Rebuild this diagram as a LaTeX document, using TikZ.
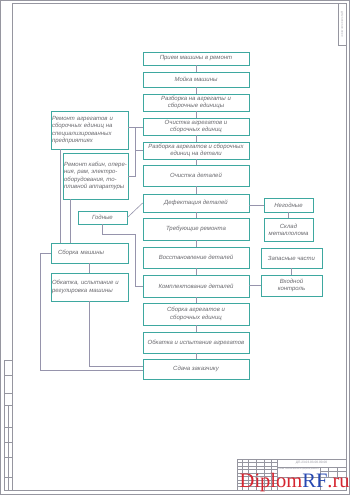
\documentclass[tikz,border=0pt]{standalone}
\usepackage{fontspec}
\setmainfont{Liberation Sans}
\newfontfamily\wmfont{Liberation Serif}
\usetikzlibrary{calc,positioning}
\definecolor{cbox}{RGB}{62,168,160}
\definecolor{clin}{RGB}{150,148,172}
\definecolor{ctxt}{RGB}{105,105,110}
\definecolor{cfrm}{RGB}{150,150,160}
\definecolor{cwred}{RGB}{214,38,48}
\definecolor{cwblu}{RGB}{38,72,178}

\begin{document}
\begin{tikzpicture}[
  x=1pt,y=-1pt,
  blk/.style={draw=cbox,line width=0.8pt,fill=white,inner sep=1pt,align=center,
    text=ctxt,font=\fontsize{6}{7.2}\selectfont\itshape},
  mainblk/.style={blk,minimum width=106pt},
  sideblk/.style={blk,align=left,inner sep=1pt},
  link/.style={clin,line width=0.6pt},
  frm/.style={cfrm,line width=0.7pt},
  thin frm/.style={cfrm,line width=0.3pt},
]
\useasboundingbox[fill=white] (0,0) rectangle (350,495);

% ============================ sheet frame ============================
\draw[thin frm] (0.5,0.5) rectangle (349.5,494.5);
\draw[frm] (12,3) rectangle (346,490);
% left binding strip
\draw[thin frm] (4,360) rectangle (12,490);
\foreach \y in {375,393,405,427,442,457,477}{ \draw[thin frm] (4,\y) -- (12,\y); }
\draw[thin frm] (8,405) -- (8,490);
% top-right stamp
\draw[thin frm] (338,3) rectangle (346,45);
\node[cfrm,rotate=-90,font=\fontsize{2.6}{3}\selectfont] (stamp) at (342,24) {ДП.23.03.03.00.00.00};

% ============================ main column ============================
\node[mainblk,minimum height=13pt] (b1)  at (196,58.5)  {Прием машины в ремонт};
\node[mainblk,minimum height=15pt] (b2)  at (196,79.5)  {Мойка машины};
\node[mainblk,minimum height=17pt] (b3)  at (196,102.5) {Разборка на агрегаты и\\сборочные единицы};
\node[mainblk,minimum height=17pt] (b4)  at (196,126.5) {Очистка агрегатов и\\сборочных единиц};
\node[mainblk,minimum height=17pt] (b5)  at (196,150.5) {Разборка агрегатов и сборочных\\единиц на детали};
\node[mainblk,minimum height=21pt] (b6)  at (196,175.5) {Очистка деталей};
\node[mainblk,minimum height=18pt] (b7)  at (196,203)   {Дефектация деталей};
\node[mainblk,minimum height=22pt] (b8)  at (196,229)   {Требующие ремонта};
\node[mainblk,minimum height=21pt] (b9)  at (196,257.5) {Восстановление деталей};
\node[mainblk,minimum height=22pt] (b10) at (196,286)   {Комплектование деталей};
\node[mainblk,minimum height=22pt] (b11) at (196,314)   {Сборка агрегатов и\\сборочных единиц};
\node[mainblk,minimum height=21pt] (b12) at (196,342.5) {Обкатка и испытание агрегатов};
\node[mainblk,minimum height=20pt] (b13) at (196,369)   {Сдача заказчику};

\foreach \a/\b in {b1/b2,b2/b3,b3/b4,b4/b5,b5/b6,b6/b7,b7/b8,b8/b9,b9/b10,b10/b11,b11/b12,b12/b13}{
  \draw[link] (\a) -- (\b); }

% ============================ right branch ============================
\node[blk,minimum width=49pt,minimum height=14pt] (neg)   at (288.5,205)   {Негодные};
\node[blk,minimum width=49pt,minimum height=23pt] (sklad) at (288.5,229.5) {Склад\\металлолома};
\node[blk,minimum width=61pt,minimum height=20pt] (zap)   at (291.5,258)   {Запасные части};
\node[blk,minimum width=61pt,minimum height=21pt] (vhod)  at (291.5,285.5) {Входной\\контроль};

\draw[link] (neg.west) -- (neg.west -| b7.east);
\draw[link] (neg) -- (sklad);
\draw[link] (zap) -- (vhod);
\draw[link] (vhod.west) -- (vhod.west -| b10.east);

% ============================ left branch ============================
\node[sideblk,text width=75pt,minimum height=38pt] (remagr) at (89.5,130)
  {Ремонт агрегатов и\\сборочных единиц на\\специализированных\\предприятиях};
\node[sideblk,minimum width=65pt,minimum height=46pt] (kabin) at (95.5,176)
  {Ремонт кабин, опере-\\ния, рам, электро-\\оборудования, то-\\пливной аппаратуры};
\node[blk,minimum width=49pt,minimum height=13pt] (godn) at (102.5,217.5) {Годные};
\node[sideblk,text width=75pt,minimum height=20pt] (sbmash) at (89.5,253) {\hspace*{6pt}Сборка машины};
\node[sideblk,text width=75pt,minimum height=28pt] (obmash) at (89.5,287)
  {Обкатка, испытание и\\регулировка машины};

% repair of units -> specialised shops
\coordinate (j1) at (135,127);
\draw[link] (b4.west |- j1) -- (remagr.east |- j1);
\draw[link] (j1) |- (kabin.east);
\draw[link] (j1 |- b5.west) -- (b5.west);
% sorted parts
\draw[link] (godn.east) -- (b7.west);
\draw[link] (godn.south) -- ++(0,10) -| ($(b10.west)+(-7,0)$) -- (b10.west);
% assembly of the machine
\coordinate (k1) at ($(sbmash.north west)+(10,0)$);
\coordinate (k2) at ($(sbmash.north west)+(20,0)$);
\draw[link] (k1) -- (k1 |- remagr.south);
\draw[link] (k2) -- (k2 |- kabin.south);
\draw[link] (sbmash) -- (obmash);
\draw[link] (obmash.south) |- ($(b13.west)+(0,-3)$);
\draw[link] (sbmash.west) -- ++(-10,0) |- ($(b13.west)+(0,1)$);

% ============================ title block ============================
\draw[frm] (237,459) rectangle (346,490);
\draw[frm] (277,459) -- (277,490);
\foreach \x in {242,248,256,264,271}{ \draw[thin frm] (\x,459) -- (\x,490); }
\foreach \k in {1,...,8}{ \draw[thin frm] (237,459+3.45*\k) -- (277,459+3.45*\k); }
\draw[frm] (277,467) -- (346,467);
\draw[frm] (277,477) -- (346,477);
\draw[thin frm] (320,467) -- (320,490);
\foreach \x in {328,337}{ \draw[thin frm] (\x,467) -- (\x,477); }
\draw[thin frm] (320,471) -- (346,471);
\node[cfrm,font=\fontsize{3.2}{3.5}\selectfont] (code) at (311.5,463) {ДП.23.03.03.00.00.00};
\node[cfrm,font=\fontsize{2}{2.2}\selectfont,inner sep=0pt] (ttl) at (298.5,469.3)
  {Схема технологического процесса ремонта};

% watermark
\node[anchor=base west,inner sep=0pt,font=\wmfont\fontsize{20.5}{22}\selectfont] (wm) at (239.5,487)
  {\textcolor{cwred}{Diplom}\textcolor{cwblu}{RF}\textcolor{cwred}{.ru}};

\end{tikzpicture}
\end{document}
